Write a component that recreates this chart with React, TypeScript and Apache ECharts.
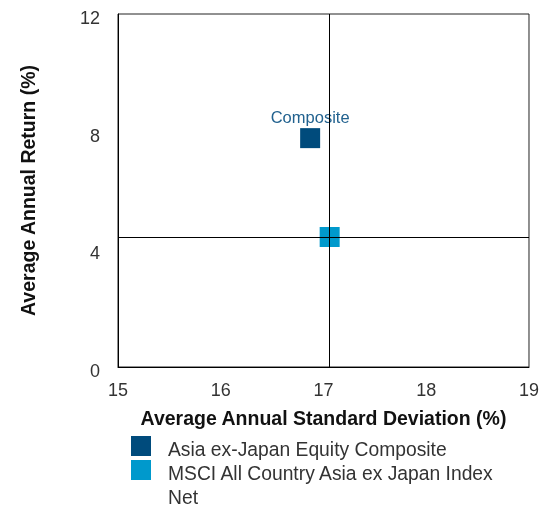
import React, { useEffect, useRef } from "react";
import * as echarts from "echarts";

const seriesNames = ["Asia ex-Japan Equity Composite", "MSCI All Country Asia ex Japan Index Net"];
const seriesColors = ["#004b7c", "#0099cc"];
const compositePoint = [16.87, 7.78];
const indexPoint = [17.06, 4.42];
const pointLabels = ["Composite", ""];
const xTicks = [15, 16, 17, 18, 19];
const yTicks = [0, 4, 8, 12];
const xTitle = "Average Annual Standard Deviation (%)";
const yTitle = "Average Annual Return (%)";

export default function App() {
  const ref = useRef<HTMLDivElement>(null);
  useEffect(() => {
    if (!ref.current) return;
    const chart = echarts.init(ref.current, null, { renderer: "svg" });
    const tickFont = { fontFamily: "Liberation Sans", fontSize: 18, color: "#333" };
    const legendItems: any[] = [];
    const legendTops = [436, 460];
    const textTops = [438, 462];
    seriesNames.forEach((n, i) => {
      legendItems.push({
        type: "rect",
        shape: { x: 131, y: legendTops[i], width: 20, height: 20 },
        style: { fill: seriesColors[i] },
      });
      legendItems.push({
        type: "text",
        x: 168,
        y: textTops[i],
        style: {
          text: n,
          width: 345,
          overflow: "break",
          lineHeight: 23.5,
          fontFamily: "Liberation Sans",
          fontSize: 19.3,
          fill: "#333",
          verticalAlign: "top",
          align: "left",
        },
      });
    });
    chart.setOption({
      animation: false,
      grid: {
        left: 118,
        top: 14,
        width: 411,
        height: 353,
        show: true,
        borderColor: "#222",
        borderWidth: 1,
        backgroundColor: "transparent",
      },
      xAxis: {
        type: "value",
        min: xTicks[0],
        max: xTicks[xTicks.length - 1],
        interval: 1,
        axisLine: { show: true, lineStyle: { color: "#000" } },
        axisTick: { show: false },
        splitLine: { show: false },
        axisLabel: { ...tickFont, margin: 14 },
        name: xTitle,
        nameLocation: "middle",
        nameGap: 41,
        nameTextStyle: { fontFamily: "Liberation Sans", fontSize: 19.5, fontWeight: "bold", color: "#111" },
      },
      yAxis: {
        type: "value",
        min: yTicks[0],
        max: yTicks[yTicks.length - 1],
        interval: 4,
        axisLine: { show: true, lineStyle: { color: "#000" } },
        axisTick: { show: false },
        splitLine: { show: false },
        axisLabel: {
          ...tickFont,
          margin: 18,
          formatter: "{a|{value}}",
          rich: { a: { ...tickFont, padding: [8, 0, 0, 0] } },
        },
        name: yTitle,
        nameLocation: "middle",
        nameGap: 80,
        nameTextStyle: { fontFamily: "Liberation Sans", fontSize: 19.5, fontWeight: "bold", color: "#111" },
      },
      series: [
        {
          type: "scatter",
          z: 1,
          data: [],
          markLine: {
            silent: true,
            symbol: "none",
            label: { show: false },
            lineStyle: { color: "#000", width: 1, type: "solid" },
            data: [{ xAxis: indexPoint[0] }, { yAxis: indexPoint[1] }],
          },
        },
        {
          name: seriesNames[0],
          type: "scatter",
          z: 3,
          symbol: "rect",
          symbolSize: 20,
          itemStyle: { color: seriesColors[0], opacity: 1 },
          label: {
            show: true,
            position: "top",
            distance: 3,
            formatter: pointLabels[0],
            fontFamily: "Liberation Sans",
            fontSize: 16.5,
            color: "#22628f",
          },
          data: [compositePoint],
        },
        {
          name: seriesNames[1],
          type: "scatter",
          z: 3,
          symbol: "rect",
          symbolSize: 20,
          itemStyle: { color: seriesColors[1], opacity: 1 },
          data: [indexPoint],
        },
      ],
      graphic: legendItems,
    });
    return () => chart.dispose();
  }, []);
  return <div ref={ref} style={{ position: "fixed", left: 0, top: 0, width: 542, height: 508 }} />;
}
